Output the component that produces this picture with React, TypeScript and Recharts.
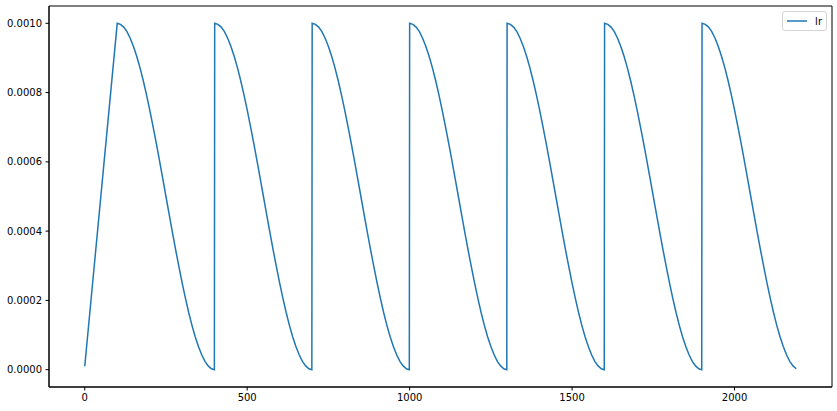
import React from 'react';
import { LineChart, Line, XAxis, YAxis, Legend, ReferenceArea } from 'recharts';

// warmup: linear ramp from step 0 up to the first peak
const warmupSteps = [0];
const warmupLr = [0.00001];

// each cosine cycle starts at one of these steps (300 steps long)
const cycleStarts = [100, 400, 700, 1000, 1300, 1600, 1900];
// the run stops a little before the last cycle finishes
const lastStep = 2190;

// shape of one decay cycle
const cycleOffsets = [
    0, 10, 20, 30, 40, 50, 60, 70, 80, 90, 100, 110, 120, 130, 140, 150,
    160, 170, 180, 190, 200, 210, 220, 230, 240, 250, 260, 270, 280, 290, 299,
];
const cycleLr = [
    0.001, 0.000997, 0.000989, 0.000976, 0.000957, 0.000933, 0.000905, 0.000872,
    0.000835, 0.000794, 0.00075, 0.000703, 0.000655, 0.000604, 0.000552, 0.0005,
    0.000448, 0.000396, 0.000345, 0.000297, 0.00025, 0.000206, 0.000165, 0.000128,
    0.000095, 0.000067, 0.000043, 0.000024, 0.000011, 0.0000027, 0.0000001,
];

const xTicks = [0, 500, 1000, 1500, 2000];
const yTicks = [0, 0.0002, 0.0004, 0.0006, 0.0008, 0.001];

const data = [
    ...warmupSteps.map((step, i) => ({ step, lr: warmupLr[i] })),
    ...cycleStarts.flatMap(start =>
        cycleOffsets.map((off, i) => ({ step: start + off, lr: cycleLr[i] }))
    ),
].filter(d => d.step <= lastStep);

const X_DOMAIN = [-110, 2300];
const Y_DOMAIN = [-0.00005, 0.00105];
const FONT = '"DejaVu Sans", sans-serif';
const BLUE = '#1f77b4';

const LegendBox = () => (
    <div
        style={{
            display: 'flex',
            alignItems: 'center',
            height: 18,
            padding: '0 4px',
            border: '1px solid #d4d4d4',
            borderRadius: 3,
            background: 'rgba(255,255,255,0.8)',
            fontFamily: FONT,
            fontSize: 10,
            color: '#000',
        }}
    >
        <svg width={20} height={10} style={{ marginRight: 8 }}>
            <line x1={0} y1={5} x2={20} y2={5} stroke={BLUE} strokeWidth={1.5} />
        </svg>
        <span>lr</span>
    </div>
);

export default function App() {
    return (
        <div style={{ position: 'absolute', left: 0, top: 0, width: 837, height: 411, background: '#fff' }}>
            <LineChart width={837} height={411} data={data} margin={{ top: 6, right: 5, bottom: 0, left: 0 }}>
                <XAxis
                    dataKey="step"
                    type="number"
                    domain={X_DOMAIN}
                    ticks={xTicks}
                    allowDataOverflow
                    height={24}
                    stroke="#000"
                    tickSize={3.5}
                    tickMargin={3.5}
                    tick={{ fill: '#000', fontSize: 10, fontFamily: FONT }}
                />
                <YAxis
                    type="number"
                    domain={Y_DOMAIN}
                    ticks={yTicks}
                    allowDataOverflow
                    width={49}
                    stroke="#000"
                    tickSize={3.5}
                    tickMargin={3.5}
                    tickFormatter={(v: number) => v.toFixed(4)}
                    tick={{ fill: '#000', fontSize: 10, fontFamily: FONT }}
                />
                {/* frame around the plot area (top and right spines) */}
                <ReferenceArea
                    x1={X_DOMAIN[0]}
                    x2={X_DOMAIN[1]}
                    y1={Y_DOMAIN[0]}
                    y2={Y_DOMAIN[1]}
                    fill="none"
                    fillOpacity={0}
                    stroke="#000"
                    strokeWidth={1}
                    ifOverflow="visible"
                />
                <Legend
                    layout="vertical"
                    align="center"
                    verticalAlign="middle"
                    content={() => <LegendBox />}
                    wrapperStyle={{ top: 11, right: 10, left: 'auto', width: 'auto' }}
                />
                <Line
                    type="linear"
                    dataKey="lr"
                    stroke={BLUE}
                    strokeWidth={1.5}
                    dot={false}
                    isAnimationActive={false}
                />
            </LineChart>
        </div>
    );
}
